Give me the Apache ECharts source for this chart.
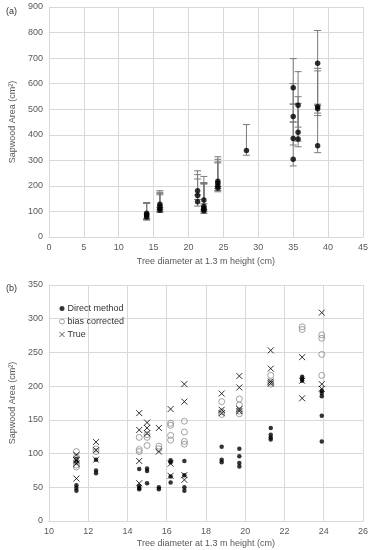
<!DOCTYPE html>
<html><head><meta charset="utf-8">
<script src="https://cdn.jsdelivr.net/npm/echarts@6/dist/echarts.min.js"></script>
<style>html,body{margin:0;padding:0;background:#fff}#c{width:373px;height:550px}</style>
</head><body><div id="c"></div>
<script>
// ---- Panel (a) data ----
const aDiameter = [14.0,14.0,14.0,14.0, 15.9,15.9,15.9,15.9, 21.3,21.3,21.3, 22.2,22.2,22.2,22.2,22.2, 24.2,24.2,24.2,24.2, 28.3, 35.0,35.0,35.0,35.0, 35.7,35.7,35.7, 38.5,38.5,38.5,38.5];
const aArea     = [93,88,83,78, 128,120,112,105, 181,162,138, 145,120,113,108,103, 218,210,200,192, 338, 584,472,385,304, 516,410,383, 680,510,502,357];
const aLower    = [72,70,68,66, 115,108,100,96, 165,147,121, 130,108,102,98,92, 198,190,182,177, 320, 520,450,360,278, 430,375,353, 515,485,475,330];
const aUpper    = [135,134,133,131, 181,175,170,165, 259,244,227, 237,213,211,209,207, 314,304,294,290, 440, 698,600,520,450, 647,549,523, 808,660,650,520];
const aXTicks = [0,45,5];
const aYTicks = [0,900,100];

// ---- Panel (b) data ----
const bDirect = [[11.4,92],[11.4,88],[11.4,53],[11.4,49],[11.4,45],[12.4,91],[12.4,75],[12.4,71],[14.6,77],[14.6,52],[14.6,49],[14.6,47],[15.0,78],[15.0,74],[15.0,56],[15.6,50],[15.6,47],[16.2,90],[16.2,87],[16.2,66],[16.2,57],[16.9,89],[16.9,68],[16.9,50],[16.9,45],[18.8,110],[18.8,91],[18.8,87],[19.7,107],[19.7,96],[19.7,86],[19.7,81],[21.3,138],[21.3,128],[21.3,124],[21.3,121],[22.9,214],[22.9,211],[22.9,208],[23.9,193],[23.9,190],[23.9,185],[23.9,156],[23.9,118]];
const bBias = [[11.4,103],[11.4,95],[11.4,88],[11.4,83],[11.4,80],[12.4,107],[12.4,103],[14.6,124],[14.6,106],[14.6,103],[15.0,128],[15.0,124],[15.0,112],[15.6,111],[15.6,107],[16.2,145],[16.2,142],[16.2,127],[16.2,120],[16.9,148],[16.9,132],[16.9,118],[16.9,114],[18.8,177],[18.8,162],[18.8,158],[19.7,181],[19.7,172],[19.7,163],[19.7,159],[21.3,216],[21.3,206],[21.3,203],[22.9,288],[22.9,284],[23.9,276],[23.9,271],[23.9,247],[23.9,216]];
const bTrue = [[11.4,98],[11.4,90],[11.4,85],[11.4,63],[12.4,117],[12.4,105],[12.4,91],[14.6,160],[14.6,135],[14.6,89],[14.6,56],[15.0,146],[15.0,138],[15.0,130],[15.6,138],[15.6,103],[16.2,166],[16.2,85],[16.2,67],[16.9,203],[16.9,177],[16.9,68],[16.9,61],[18.8,189],[18.8,165],[18.8,160],[19.7,215],[19.7,198],[19.7,166],[19.7,163],[21.3,253],[21.3,226],[21.3,207],[21.3,204],[22.9,243],[22.9,208],[22.9,182],[23.9,309],[23.9,203],[23.9,196]];
const bXTicks = [10,26,2];
const bYTicks = [0,350,50];
const seriesNames = ['Direct method','bias corrected','True'];

const FONT = 'Liberation Sans';
const GRID = '#d9d9d9';
const TXT = '#595959';

function axis(ticks, idx, name, isY, gap){
  return {
    type:'value', gridIndex: idx, min:ticks[0], max:ticks[1], interval:ticks[2],
    name:name, nameLocation:'middle', nameGap:gap, nameRotate: isY?90:0,
    nameTextStyle:{fontFamily:FONT,fontSize:9,color:TXT},
    axisLine:{show:true,lineStyle:{color:GRID}}, axisTick:{show:false},
    axisLabel:{fontFamily:FONT,fontSize:9,color:TXT,margin:6},
    splitLine:{show:true,lineStyle:{color:GRID,width:1}}
  };
}

const chart = echarts.init(document.getElementById('c'), null, {renderer:'canvas'});
const errData = aDiameter.map((x,i)=>[x,aLower[i],aUpper[i]]);
const dotData = aDiameter.map((x,i)=>[x,aArea[i]]);
const xSym = 'path://M0,0L10,10M10,0L0,10';

chart.setOption({
  animation:false,
  backgroundColor:'#fff',
  title:[
    {text:'(a)',left:1,top:2,textStyle:{fontFamily:FONT,fontSize:9,fontWeight:'normal',color:'#333'}},
    {text:'(b)',left:1,top:279,textStyle:{fontFamily:FONT,fontSize:9,fontWeight:'normal',color:'#333'}}
  ],
  grid:[
    {left:41,top:7,width:322,height:230},
    {left:41,top:285,width:322,height:236}
  ],
  xAxis:[
    axis(aXTicks,0,'Tree diameter at 1.3 m height (cm)',false,20),
    axis(bXTicks,1,'Tree diameter at 1.3 m height (cm)',false,18)
  ],
  yAxis:[
    axis(aYTicks,0,'Sapwood Area (cm²)',true,24),
    axis(bYTicks,1,'Sapwood Area (cm²)',true,24)
  ],
  legend:{
    data:[
      {name:seriesNames[0], itemStyle:{color:'#000',borderWidth:0}},
      {name:seriesNames[1], itemStyle:{color:'rgba(0,0,0,0)',borderColor:'#8c8c8c',borderWidth:1}},
      {name:seriesNames[2], itemStyle:{color:'rgba(0,0,0,0)',borderColor:'#000',borderWidth:0.8}}
    ],
    orient:'vertical', left:54, top:299, itemGap:4,
    itemWidth:5, itemHeight:5,
    textStyle:{fontFamily:FONT,fontSize:9,color:'#333',padding:[0,0,0,-2]}
  },
  series:[
    {type:'custom', xAxisIndex:0, yAxisIndex:0, data:errData, encode:{x:0,y:[1,2]},
     renderItem:function(params,api){
       const x=api.value(0), lo=api.value(1), hi=api.value(2);
       const p1=api.coord([x,lo]), p2=api.coord([x,hi]); const w=3.5;
       const st={stroke:'#7a7a7a',lineWidth:1};
       return {type:'group',children:[
         {type:'line',shape:{x1:p1[0],y1:p1[1],x2:p2[0],y2:p2[1]},style:st},
         {type:'line',shape:{x1:p1[0]-w,y1:p1[1],x2:p1[0]+w,y2:p1[1]},style:st},
         {type:'line',shape:{x1:p2[0]-w,y1:p2[1],x2:p2[0]+w,y2:p2[1]},style:st}
       ]};
     }},
    {type:'scatter', xAxisIndex:0, yAxisIndex:0, data:dotData, symbol:'circle', symbolSize:5.5,
     itemStyle:{color:'#000'}},
    {name:seriesNames[0], type:'scatter', xAxisIndex:1, yAxisIndex:1, data:bDirect, symbol:'circle', symbolSize:4.5,
     itemStyle:{color:'#000'}},
    {name:seriesNames[1], type:'scatter', xAxisIndex:1, yAxisIndex:1, data:bBias, symbol:'circle', symbolSize:6,
     itemStyle:{color:'rgba(0,0,0,0)',borderColor:'#8c8c8c',borderWidth:1}},
    {name:seriesNames[2], type:'scatter', xAxisIndex:1, yAxisIndex:1, data:bTrue, symbol:xSym, symbolSize:6,
     itemStyle:{color:'rgba(0,0,0,0)',borderColor:'#000',borderWidth:1}}
  ]
});
</script></body></html>
